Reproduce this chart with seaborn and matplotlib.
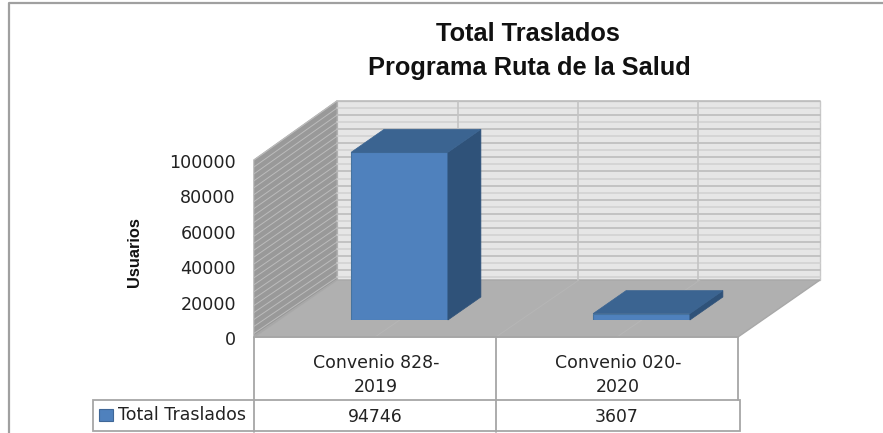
import numpy as np
import pandas as pd
import matplotlib
matplotlib.use("Agg")
import matplotlib.pyplot as plt
from matplotlib.patches import Polygon, Rectangle
import seaborn as sns

categories = ["Convenio 828-\n2019", "Convenio 020-\n2020"]
traslados = [94746, 3607]
y_ticks = [0, 20000, 40000, 60000, 80000, 100000]
series_name = "Total Traslados"

W, H = 883, 433
PX_PER_UNIT = 177 / 100000  # pixels per user on the front plane
DEPTH_X, DEPTH_Y = 33, 23   # bar depth in pixels

LINE = "#a6a6a6"
TEXT = "#222222"
FRONT = "#4f81bd"
TOP = "#3b6491"
SIDE = "#2f5279"

sns.set_theme(style="white")
plt.rcParams["font.family"] = ["DejaVu Sans"]

fig = plt.figure(figsize=(W / 100, H / 100), dpi=100, facecolor="white")


def axes_px(left, right, top, bottom):
    return fig.add_axes([left / W, 1 - bottom / H, (right - left) / W, (bottom - top) / H])


# background layer in pixel units: frame, walls, floor, table
bg = axes_px(0, W, 0, H)
bg.set_xlim(0, W)
bg.set_ylim(H, 0)
bg.axis("off")

bg.plot([9, 9, W], [H, 3, 3], color="#a0a0a0", lw=1.6)

# back wall
bg.add_patch(Rectangle((337, 101), 483, 179, fc="#e6e6e6", ec="#c8c8c8", lw=1))
for i, yy in enumerate(np.arange(101, 280, 7.05)):
    bg.plot([337, 820], [yy, yy], color="#bdbdbd" if i % 2 == 0 else "#d2d2d2", lw=1.2)
for xx in [458, 578, 698]:
    bg.plot([xx, xx], [101, 280], color="#c4c4c4", lw=1.2)

# left wall
bg.add_patch(Polygon([(254, 160), (337, 101), (337, 280), (254, 336)], fc="#999999", ec="#a8a8a8", lw=1))
for k in np.arange(0, 179, 7.05):
    bg.plot([254, 337], [160 + k * 176 / 179, 101 + k], color="#bcbcbc", lw=0.7)

# floor
bg.add_patch(Polygon([(254, 337), (337, 280), (820, 280), (738, 337)], fc="#b0b0b0", ec="#a8a8a8", lw=1))
for x0 in [375, 496, 617]:
    bg.plot([x0, x0 + 83], [337, 280], color="#b6b6b6", lw=0.7)

# table grid
bg.plot([254, 254], [337, 432], color=LINE, lw=1.3)
bg.plot([496, 496], [337, 432], color=LINE, lw=1.3)
bg.plot([738, 738], [337, 400], color=LINE, lw=1.3)
bg.plot([254, 738], [337, 337], color=LINE, lw=1.3)
bg.add_patch(Rectangle((93, 400), 647, 31, fc="none", ec=LINE, lw=1.3))
bg.add_patch(Rectangle((99, 409), 14, 12, fc=FRONT, ec="#3f6797", lw=0.8))
bg.text(118, 415, series_name, fontsize=12.5, color=TEXT, va="center", ha="left")

for cx, lab, val in zip([375, 617], categories, traslados):
    bg.text(cx + 1, 375, lab, fontsize=12.5, color=TEXT, ha="center", va="center", linespacing=1.42)
    bg.text(cx, 417, str(val), fontsize=12.4, color=TEXT, ha="center", va="center")

# titles
bg.text(528, 34, "Total Traslados", family="Liberation Sans", fontweight="bold", fontsize=18.3,
        color="#111111", ha="center", va="center")
bg.text(529, 68, "Programa Ruta de la Salud", family="Liberation Sans", fontweight="bold", fontsize=18.3,
        color="#111111", ha="center", va="center")

# value axis labels, on the front edge of the left wall
ax_y = axes_px(254, 300, 161, 338)
ax_y.patch.set_alpha(0)
ax_y.set_ylim(0, 100000)
ax_y.set_xticks([])
ax_y.set_yticks(y_ticks)
ax_y.set_yticklabels([str(v) for v in y_ticks], fontsize=12.6, color=TEXT)
ax_y.tick_params(axis="y", length=0, pad=13)
sns.despine(ax=ax_y, left=True, bottom=True)
bg.text(135, 252, "Usuarios", family="Liberation Sans", fontweight="bold", fontsize=11.8,
        color="#111111", rotation=90, ha="center", va="center")

# bars: front faces drawn by seaborn, depth faces built from those patches
ax = axes_px(278.5, 762.5, 143, 320)
df = pd.DataFrame({"convenio": categories, "traslados": traslados})
sns.barplot(data=df, x="convenio", y="traslados", color=FRONT, saturation=1, width=0.4,
            edgecolor="#46739f", linewidth=0.8, ax=ax)
ax.set_ylim(0, 100000)
ax.set_xlim(-0.5, 1.5)
ax.axis("off")
ax.patch.set_alpha(0)

dx = DEPTH_X / 242
dy = DEPTH_Y / PX_PER_UNIT
for bar in list(ax.patches):
    x0, w, h = bar.get_x(), bar.get_width(), bar.get_height()
    x1 = x0 + w
    ax.add_patch(Polygon([(x1, 0), (x1 + dx, dy), (x1 + dx, h + dy), (x1, h)],
                         fc=SIDE, ec=SIDE, lw=0.5, clip_on=False))
    ax.add_patch(Polygon([(x0, h), (x0 + dx, h + dy), (x1 + dx, h + dy), (x1, h)],
                         fc=TOP, ec=TOP, lw=0.5, clip_on=False))

fig.savefig("out.png", dpi=100)
